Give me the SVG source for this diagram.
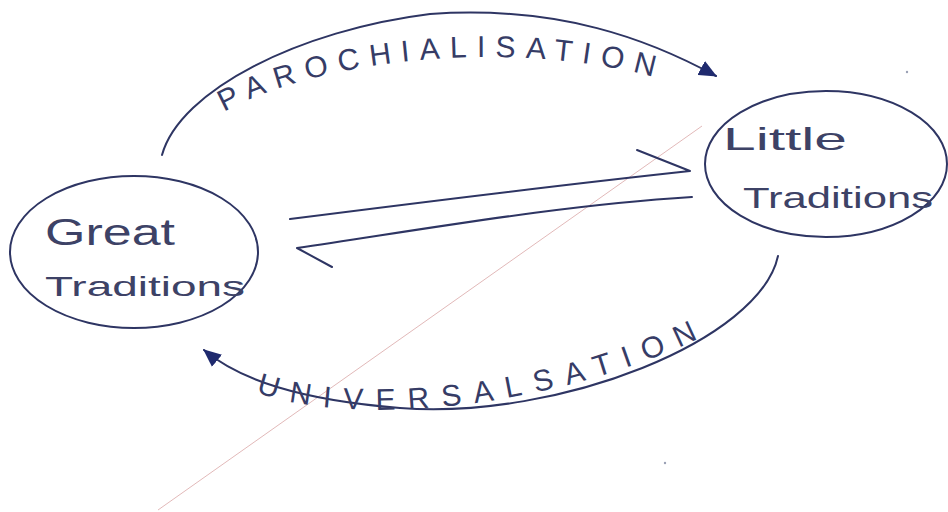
<svg xmlns="http://www.w3.org/2000/svg" width="948" height="512" viewBox="0 0 948 512">
<style>
.ink{fill:none;stroke:#2e3563;stroke-width:2;stroke-linecap:round;stroke-linejoin:round}
.hw{font-family:"Liberation Sans","DejaVu Sans",sans-serif;fill:#3d4266}
.lbl{font-family:"Liberation Sans","DejaVu Sans",sans-serif;fill:#363c66;font-size:30px}
</style>
<defs>
<marker id="fill2" viewBox="0 0 16 14" refX="15" refY="7" markerWidth="18" markerHeight="16" markerUnits="userSpaceOnUse" orient="auto">
<path d="M0 0 L16 7 L0 14 Z" fill="#1f2a6e"/>
</marker>
<path id="tp1" d="M224 112 C320 58 520 36 672 82"/>
<path id="tp2" d="M256 392 C350 428 560 410 716 330"/>
</defs>
<rect width="948" height="512" fill="#ffffff"/>
<line x1="158" y1="510" x2="702" y2="126" stroke="#e2b9b9" stroke-width="1"/>
<circle cx="907" cy="72" r="1.2" fill="#9aa0b5"/>
<circle cx="665" cy="463" r="1.2" fill="#9aa0b5"/>
<g id="great">
<ellipse class="ink" cx="134" cy="252" rx="124" ry="76"/>
<text class="hw" x="45" y="245" font-size="36" textLength="130" lengthAdjust="spacingAndGlyphs">Great</text>
<text class="hw" x="45" y="296" font-size="28" textLength="200" lengthAdjust="spacingAndGlyphs">Traditions</text>
</g>
<g id="little">
<ellipse class="ink" cx="826" cy="164" rx="121" ry="73"/>
<text class="hw" x="723" y="150" font-size="32" textLength="124" lengthAdjust="spacingAndGlyphs">Little</text>
<text class="hw" x="743" y="208" font-size="30" textLength="190" lengthAdjust="spacingAndGlyphs">Traditions</text>
</g>
<g id="connectors">
<path class="ink" d="M162 155 C180 90 300 30 430 14 C560 5 650 40 716 76" marker-end="url(#fill2)"/>
<text class="lbl" letter-spacing="10"><textPath href="#tp1">PAROCHIALISATION</textPath></text>
<path class="ink" d="M778 256 C760 340 560 420 400 408 C300 400 240 380 204 350" marker-end="url(#fill2)"/>
<text class="lbl" letter-spacing="12.5"><textPath href="#tp2">UNIVERSALSATION</textPath></text>
<path class="ink" d="M290 219 C400 205 560 185 690 171 L637 150"/>
<path class="ink" d="M692 197 C560 205 420 230 297 248 L332 267"/>
</g>
</svg>
